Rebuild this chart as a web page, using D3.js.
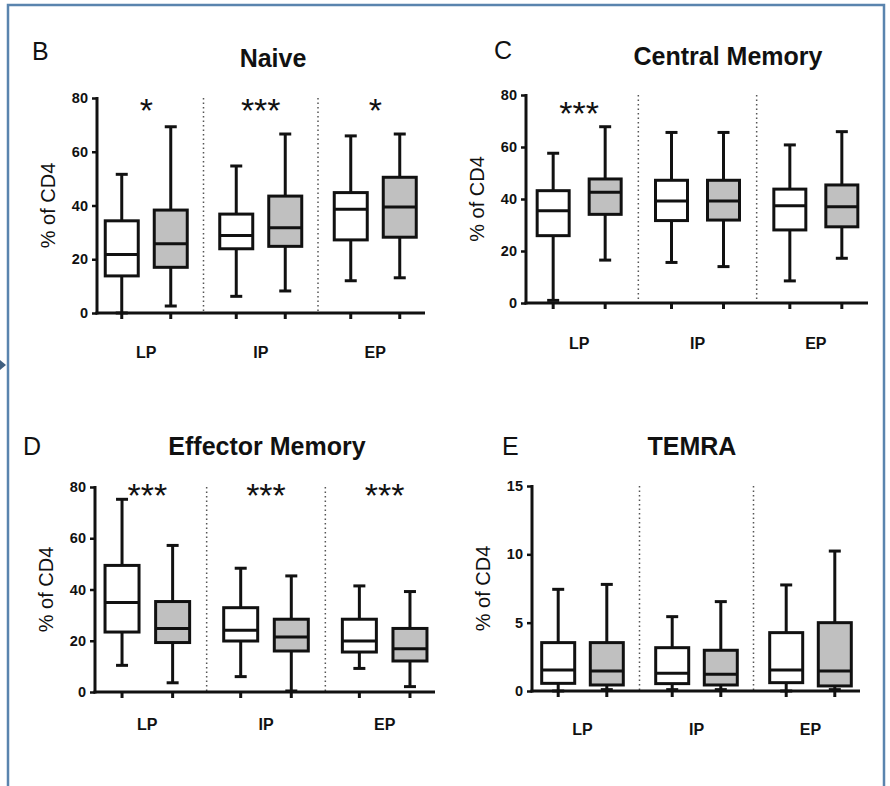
<!DOCTYPE html>
<html lang="en">
<head>
<meta charset="utf-8">
<title>CD4 subsets by group</title>
<script src="https://d3js.org/d3.v7.min.js"></script>
<style>
  body { margin: 0; background: #fff; }
  text { font-family: "Liberation Sans", Arial, sans-serif; fill: #111; }
</style>
</head>
<body>
<script>
// groups on the x axis
const groups = ["LP", "IP", "EP"];

// box stats per group: [min, q1, median, q3, max]
const naiveWhite = [[0, 13.8, 21.8, 34.3, 51.6], [6.2, 23.9, 28.8, 36.8, 54.7], [12, 27.2, 38.6, 44.8, 65.9]];
const naiveGrey  = [[2.6, 17, 25.8, 38.3, 69.3], [8.2, 24.8, 31.7, 43.5, 66.6], [13.1, 28.2, 39.4, 50.5, 66.6]];
const cmWhite = [[1, 25.9, 35.5, 43.2, 57.6], [15.6, 31.7, 39.2, 47.2, 65.6], [8.5, 28.1, 37.4, 43.8, 60.8]];
const cmGrey  = [[16.5, 34.1, 42.6, 47.7, 67.8], [14, 31.9, 39.2, 47.2, 65.6], [17.2, 29.3, 37, 45.4, 65.9]];
const emWhite = [[10.4, 23.4, 34.9, 49.4, 75.2], [6, 19.9, 24.1, 32.9, 48.3], [9.2, 15.6, 19.9, 28.4, 41.4]];
const emGrey  = [[3.6, 19.3, 24.8, 35.3, 57.2], [0.4, 16, 21.5, 28.4, 45.3], [2.1, 12.1, 16.9, 24.8, 39.2]];
const temraWhite = [[0, 0.56, 1.54, 3.54, 7.44], [0.1, 0.54, 1.29, 3.17, 5.44], [0, 0.61, 1.54, 4.27, 7.76]];
const temraGrey  = [[0.1, 0.44, 1.46, 3.54, 7.8], [0.1, 0.44, 1.22, 2.98, 6.54], [0.1, 0.37, 1.46, 5.0, 10.24]];

// y ticks and significance marks
const ticks80 = [0, 20, 40, 60, 80];
const ticks15 = [0, 5, 10, 15];
const naiveStars = ["*", "***", "*"];
const cmStars = ["***", "", ""];
const emStars = ["***", "***", "***"];
const temraStars = ["", "", ""];

const panels = [
  { letter: "B", title: "Naive", white: naiveWhite, grey: naiveGrey, ticks: ticks80, stars: naiveStars,
    ax: 97, ax2: 425, top: 98, bottom: 313, band: [89, 432.5], off: 24.5, bw: 33,
    lx: 32, ly: 60, tx: 273, ty: 67, sy: 122, gy: 45 },
  { letter: "C", title: "Central Memory", white: cmWhite, grey: cmGrey, ticks: ticks80, stars: cmStars,
    ax: 526, ax2: 868, top: 95, bottom: 303, band: [520, 875], off: 26, bw: 32,
    lx: 494, ly: 59, tx: 728, ty: 65, sy: 125, gy: 46 },
  { letter: "D", title: "Effector Memory", white: emWhite, grey: emGrey, ticks: ticks80, stars: emStars,
    ax: 95, ax2: 435, top: 487, bottom: 692, band: [88, 444], off: 25.3, bw: 34,
    lx: 23, ly: 455, tx: 267, ty: 455, sy: 507, gy: 38 },
  { letter: "E", title: "TEMRA", white: temraWhite, grey: temraGrey, ticks: ticks15, stars: temraStars,
    ax: 532, ax2: 860, top: 486, bottom: 691, band: [525.5, 867.5], off: 24.3, bw: 33,
    lx: 502, ly: 455, tx: 692, ty: 455, sy: 506, gy: 44 }
];

const width = 890, height = 786;
const svg = d3.select("body").append("svg")
  .attr("width", width)
  .attr("height", height);

// blue frame, open at the bottom
svg.append("path")
  .attr("d", "M8,786 L8,5 L884,5 L884,786")
  .attr("fill", "none")
  .attr("stroke", "#5a84ae")
  .attr("stroke-width", 2.5);
svg.append("path")
  .attr("d", "M0,360 L6,365 L0,370 Z")
  .attr("fill", "#3f5f7f");

panels.forEach(p => {
  const g = svg.append("g");
  const yMax = p.ticks[p.ticks.length - 1];
  const y = d3.scaleLinear().domain([0, yMax]).range([p.bottom, p.top]);
  const x = d3.scaleBand().domain(groups).range(p.band).padding(0);
  const cx = d => x(d) + x.bandwidth() / 2;

  g.append("text").attr("x", p.lx).attr("y", p.ly)
    .attr("font-size", 25).text(p.letter);
  g.append("text").attr("x", p.tx).attr("y", p.ty)
    .attr("text-anchor", "middle").attr("font-size", 25).attr("font-weight", "bold")
    .text(p.title);

  // y label
  g.append("text")
    .attr("transform", `translate(${p.ax - 42},${(p.top + p.bottom) / 2}) rotate(-90)`)
    .attr("text-anchor", "middle").attr("font-size", 20)
    .text("% of CD4");

  // dotted separators
  g.selectAll(".sep").data(groups.slice(1)).join("line")
    .attr("x1", d => x(d)).attr("x2", d => x(d))
    .attr("y1", p.top).attr("y2", p.bottom)
    .attr("stroke", "#555").attr("stroke-width", 1.5)
    .attr("stroke-dasharray", "1.5,3");

  // y axis
  const yAxis = d3.axisLeft(y).tickValues(p.ticks).tickSize(5).tickPadding(4);
  const ya = g.append("g").attr("transform", `translate(${p.ax},0)`).call(yAxis);
  ya.select(".domain").remove();
  ya.selectAll(".tick line").attr("stroke", "#111").attr("stroke-width", 2.5);
  ya.selectAll(".tick text").attr("font-size", 14.5).attr("font-weight", "bold")
    .attr("font-family", "Liberation Sans, Arial, sans-serif").attr("fill", "#222");
  g.append("line").attr("x1", p.ax).attr("x2", p.ax)
    .attr("y1", p.top - 1).attr("y2", p.bottom + 1.5)
    .attr("stroke", "#111").attr("stroke-width", 3);

  // x axis
  g.append("line").attr("x1", p.ax - 1.5).attr("x2", p.ax2)
    .attr("y1", p.bottom).attr("y2", p.bottom)
    .attr("stroke", "#111").attr("stroke-width", 3);

  const series = [
    { stats: p.white, dx: -p.off, fill: "#ffffff" },
    { stats: p.grey, dx: p.off, fill: "#c0c0c0" }
  ];

  series.forEach(s => {
    groups.forEach((grp, i) => {
      const [mn, q1, md, q3, mx] = s.stats[i];
      const c = cx(grp) + s.dx;
      // x tick under each box
      g.append("line").attr("x1", c).attr("x2", c)
        .attr("y1", p.bottom).attr("y2", p.bottom + 6)
        .attr("stroke", "#111").attr("stroke-width", 3);
      // whiskers
      g.append("line").attr("x1", c).attr("x2", c)
        .attr("y1", y(mx)).attr("y2", y(mn))
        .attr("stroke", "#111").attr("stroke-width", 3);
      [mn, mx].forEach(v => {
        g.append("line").attr("x1", c - 6).attr("x2", c + 6)
          .attr("y1", y(v)).attr("y2", y(v))
          .attr("stroke", "#111").attr("stroke-width", 3);
      });
      // box
      g.append("rect")
        .attr("x", c - p.bw / 2).attr("width", p.bw)
        .attr("y", y(q3)).attr("height", y(q1) - y(q3))
        .attr("fill", s.fill).attr("stroke", "#111").attr("stroke-width", 3);
      g.append("line").attr("x1", c - p.bw / 2).attr("x2", c + p.bw / 2)
        .attr("y1", y(md)).attr("y2", y(md))
        .attr("stroke", "#111").attr("stroke-width", 3);
    });
  });

  // group labels
  g.selectAll(".glab").data(groups).join("text")
    .attr("x", d => cx(d)).attr("y", p.bottom + p.gy)
    .attr("text-anchor", "middle").attr("font-size", 16).attr("font-weight", "bold")
    .text(d => d);

  // significance stars
  g.selectAll(".star").data(groups).join("text")
    .attr("x", d => cx(d)).attr("y", p.sy)
    .attr("text-anchor", "middle").attr("font-size", 34)
    .text((d, i) => p.stars[i]);
});
</script>
</body>
</html>
